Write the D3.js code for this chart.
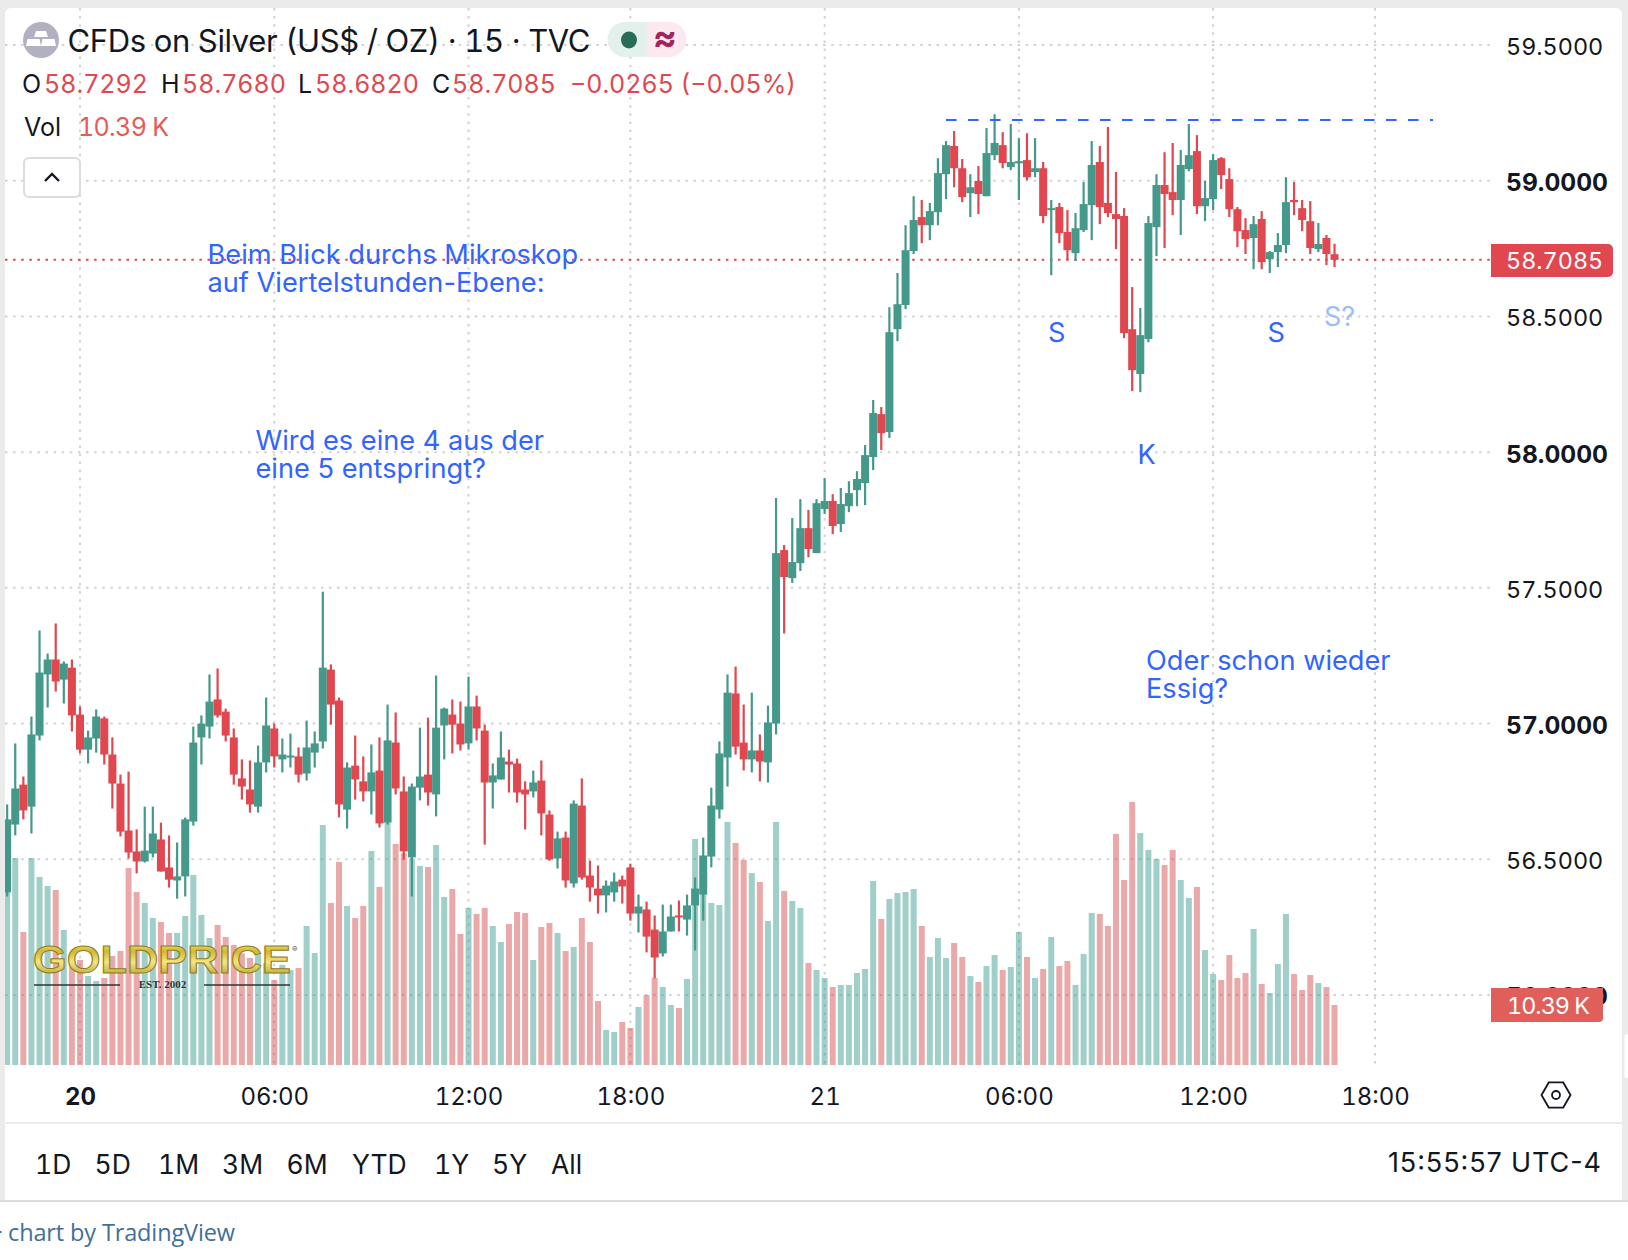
<!DOCTYPE html>
<html>
<head>
<meta charset="utf-8">
<script src="https://cdn.jsdelivr.net/npm/d3@7"></script>
<style>
html, body { margin: 0; padding: 0; background: #fff; }
svg { display: block; }
text { font-family: Inter, "Noto Sans", sans-serif; fill: #131722; font-feature-settings: "tnum" 1; }
.plain { font-feature-settings: normal; }
.axis path, .axis line { display: none; }
</style>
</head>
<body>
<svg id="chart" width="1628" height="1260"></svg>
<script>
// 15 minute candles, oldest first
const opens = [56.378,56.628,56.775,56.694,56.956,57.181,57.236,57.162,57.206,57.033,56.904,56.945,57.019,56.886,56.779,56.606,56.529,56.492,56.521,56.573,56.470,56.422,56.437,56.639,56.949,56.989,57.089,57.044,56.949,56.798,56.757,56.694,56.857,56.982,56.868,56.875,56.879,56.816,56.893,56.934,57.199,57.085,56.683,56.845,56.787,56.750,56.827,56.635,56.930,56.750,56.507,56.764,56.812,56.739,56.993,57.033,57.000,56.927,57.063,56.974,56.783,56.794,56.860,56.853,56.757,56.750,56.790,56.665,56.503,56.580,56.411,56.698,56.440,56.392,56.367,56.378,56.425,56.470,56.300,56.315,56.241,56.153,56.234,56.293,56.278,56.330,56.370,56.510,56.683,56.875,57.111,56.930,56.868,56.901,56.857,57.000,57.639,57.536,57.591,57.720,57.628,57.790,57.820,57.735,57.801,57.860,57.886,57.982,58.140,58.074,58.453,58.542,58.741,58.866,58.836,58.884,59.024,59.128,59.046,58.954,58.999,58.943,59.094,59.131,59.050,59.064,59.076,59.032,59.046,58.892,58.903,58.811,58.733,58.818,58.910,59.069,58.918,58.877,58.870,58.453,58.288,58.417,58.829,58.984,58.958,58.929,59.043,59.109,58.906,58.932,59.083,59.006,58.895,58.818,58.789,58.859,58.711,58.737,58.763,58.929,58.899,58.851,58.748,58.789,58.7292];
const highs = [56.702,56.927,56.805,57.026,57.343,57.258,57.369,57.229,57.236,57.063,56.974,57.052,57.026,56.949,56.812,56.823,56.610,56.694,56.694,56.635,56.588,56.562,56.654,56.989,57.030,57.181,57.203,57.055,56.982,56.868,56.864,56.919,57.096,57.000,56.945,56.963,56.912,57.011,56.971,57.486,57.218,57.096,56.857,56.956,56.879,56.923,56.949,57.070,57.041,56.805,56.779,56.985,57.022,57.177,57.059,57.089,57.081,57.173,57.103,56.996,56.853,56.971,56.904,56.871,56.787,56.827,56.864,56.680,56.602,56.602,56.717,56.798,56.495,56.477,56.422,56.451,56.440,56.484,56.370,56.344,56.293,56.333,56.333,56.348,56.370,56.433,56.580,56.764,56.934,57.181,57.210,57.070,57.114,56.960,57.066,57.831,57.658,57.757,57.827,57.787,57.827,57.904,57.845,57.868,57.893,57.930,58.026,58.192,58.166,58.534,58.660,58.836,58.943,58.929,58.918,59.083,59.146,59.183,59.080,59.024,59.054,59.194,59.245,59.179,59.209,59.157,59.175,59.157,59.069,58.929,58.918,58.892,58.881,58.995,59.146,59.128,59.198,59.032,58.899,58.608,58.531,58.870,59.024,59.105,59.139,59.113,59.209,59.168,58.999,59.098,59.087,59.046,58.903,58.862,58.870,58.888,58.741,58.807,59.013,58.995,58.929,58.925,58.844,58.800,58.7680];
const lows = [56.363,56.588,56.647,56.595,56.938,57.059,57.118,57.074,56.971,56.890,56.853,56.893,56.849,56.687,56.584,56.503,56.448,56.488,56.507,56.455,56.396,56.355,56.363,56.624,56.849,56.945,57.022,56.934,56.775,56.720,56.672,56.672,56.820,56.838,56.820,56.838,56.783,56.790,56.838,56.908,56.996,56.654,56.613,56.720,56.713,56.665,56.617,56.628,56.739,56.499,56.363,56.717,56.698,56.658,56.868,56.890,56.901,56.904,56.938,56.554,56.687,56.794,56.746,56.709,56.610,56.728,56.588,56.495,56.466,56.396,56.396,56.425,56.344,56.300,56.304,56.344,56.337,56.274,56.230,56.157,56.061,56.142,56.234,56.234,56.219,56.164,56.274,56.470,56.650,56.768,56.886,56.827,56.820,56.787,56.783,56.960,57.332,57.518,57.562,57.613,57.628,57.772,57.698,57.706,57.779,57.801,57.805,57.934,58.008,58.052,58.409,58.527,58.730,58.770,58.781,58.836,58.932,58.976,58.921,58.866,58.877,58.943,59.076,59.046,59.039,58.929,59.002,59.013,58.844,58.652,58.770,58.708,58.704,58.811,58.781,58.840,58.866,58.748,58.420,58.225,58.221,58.405,58.722,58.752,58.873,58.800,59.035,58.877,58.851,58.892,58.969,58.866,58.755,58.730,58.674,58.674,58.660,58.682,58.733,58.873,58.814,58.730,58.737,58.689,58.6820];
const closes = [56.647,56.761,56.680,56.960,57.188,57.236,57.155,57.221,57.030,56.904,56.949,57.026,56.886,56.779,56.602,56.525,56.492,56.532,56.595,56.455,56.425,56.437,56.647,56.930,57.000,57.081,57.030,56.956,56.812,56.768,56.702,56.857,56.993,56.879,56.886,56.882,56.812,56.912,56.927,57.206,57.070,56.702,56.838,56.794,56.750,56.820,56.632,56.938,56.761,56.529,56.768,56.805,56.746,56.985,57.055,56.996,56.923,57.063,56.982,56.783,56.809,56.875,56.849,56.746,56.739,56.783,56.669,56.499,56.577,56.422,56.705,56.433,56.396,56.367,56.403,56.418,56.400,56.300,56.326,56.215,56.138,56.234,56.289,56.286,56.330,56.392,56.514,56.698,56.890,57.114,56.915,56.868,56.901,56.860,57.004,57.628,57.540,57.595,57.720,57.643,57.812,57.820,57.728,57.809,57.849,57.901,57.989,58.144,58.070,58.442,58.545,58.744,58.855,58.836,58.888,59.028,59.131,59.046,58.940,58.976,58.951,59.102,59.139,59.065,59.069,59.072,59.013,59.046,58.870,58.899,58.807,58.744,58.825,58.914,59.058,58.903,58.881,58.859,58.439,58.302,58.431,58.844,58.984,58.951,58.929,59.058,59.094,58.906,58.936,59.076,59.021,58.895,58.814,58.785,58.840,58.700,58.737,58.763,58.921,58.921,58.855,58.752,58.767,58.730,58.7085];
// volume in thousands
const volumes = [30.31,35.85,23.03,35.85,32.56,31.00,30.31,23.38,17.32,18.18,15.41,14.55,15.07,18.88,19.74,34.12,29.96,28.06,25.46,24.77,22.86,22.86,25.81,32.91,25.98,22.00,24.25,22.17,20.78,19.34,18.53,19.22,17.67,14.72,17.32,16.45,16.80,24.07,19.40,41.57,28.06,35.16,27.54,25.46,27.54,37.06,30.83,41.91,38.27,36.66,35.79,34.47,34.29,38.10,29.10,30.48,22.69,27.19,26.15,27.19,24.07,21.30,24.42,26.50,26.33,18.18,23.90,24.59,22.86,19.74,20.44,25.46,21.30,11.08,6.06,5.72,7.45,6.41,10.05,12.12,15.07,13.51,10.39,9.87,14.89,39.14,30.31,28.06,27.71,42.09,38.45,35.50,33.25,31.69,24.94,42.09,30.14,28.40,27.19,17.67,16.45,15.07,13.51,13.86,13.86,15.93,16.63,31.87,25.29,28.75,29.79,29.96,30.48,24.07,18.70,22.00,18.53,21.13,18.70,15.41,14.38,17.15,19.05,16.45,16.97,23.03,18.70,15.07,16.63,22.17,17.15,18.01,13.86,19.22,26.33,26.15,24.07,40.01,32.04,45.55,40.18,37.24,35.68,34.64,37.24,32.04,28.92,30.83,19.92,15.76,14.72,19.05,15.07,15.93,23.55,14.03,12.47,17.49,26.15,15.76,12.99,15.59,14.20,13.51,10.39];

const priceTicks = [56, 56.5, 57, 57.5, 58, 58.5, 59, 59.5];
const boldPrices = [56, 57, 58, 59];
const timeTickBars = [9, 33, 57, 77, 101, 125, 149, 169];
const timeTickLabels = ["20", "06:00", "12:00", "18:00", "21", "06:00", "12:00", "18:00"];
const rangeLabels = ["1D", "5D", "1M", "3M", "6M", "YTD", "1Y", "5Y", "All"];
const rangeLefts = [35, 94.5, 158, 222, 286.5, 352, 434, 492, 551];
const lastPrice = 58.7085;
const resistance = 59.2237;
const ohlc = [["O", "58.7292", 22, 44], ["H", "58.7680", 161, 182], ["L", "58.6820", 298, 315], ["C", "58.7085", 432, 452]];

const UP = "#45998a", DOWN = "#e0474f", BLUE = "#3264ff";
const svg = d3.select("#chart");
const n = closes.length;

const x = d3.scaleLinear().domain([9, 169]).range([80, 1375]);
const y = d3.scaleLinear().domain([56, 59.5]).range([995, 45]);
const yVol = d3.scaleLinear().domain([0, 10.39]).range([1065, 1005]);
const isUp = i => closes[i] >= opens[i];

// page frame
svg.append("rect").attr("width", 1628).attr("height", 1201).attr("fill", "#ebebeb");
svg.append("rect").attr("x", 5).attr("y", 8).attr("width", 1617).attr("height", 1193).attr("rx", 6).attr("fill", "#fff");
svg.append("rect").attr("x", 5).attr("y", 100).attr("width", 1617).attr("height", 1101).attr("fill", "#fff");
svg.append("rect").attr("x", 1624.5).attr("y", 1034).attr("width", 4).attr("height", 44).attr("rx", 2).attr("fill", "#fff");
svg.append("rect").attr("x", 0).attr("y", 1200).attr("width", 1628).attr("height", 2).attr("fill", "#dcdcdc");
svg.append("rect").attr("x", 5).attr("y", 1122).attr("width", 1617).attr("height", 2).attr("fill", "#ebebeb");

svg.append("defs").append("clipPath").attr("id", "plot")
    .append("rect").attr("x", 5).attr("y", 8).attr("width", 1486).attr("height", 1058);
const gold = svg.select("defs").append("linearGradient").attr("id", "gold")
    .attr("x1", 0).attr("y1", 0).attr("x2", 0).attr("y2", 1);
[["0%", "#f6ec92"], ["30%", "#d3b835"], ["55%", "#f4e682"], ["100%", "#a68c1c"]].forEach(s => {
    gold.append("stop").attr("offset", s[0]).attr("stop-color", s[1]);
});

const plot = svg.append("g").attr("clip-path", "url(#plot)");

// grid
plot.selectAll(".hgrid").data(priceTicks).join("line")
    .attr("x1", 5).attr("x2", 1491)
    .attr("y1", d => y(d)).attr("y2", d => y(d))
    .attr("stroke", "#d2d2d2").attr("stroke-width", 2).attr("stroke-dasharray", "2.5 5.6");
plot.selectAll(".vgrid").data(timeTickBars).join("line")
    .attr("x1", d => x(d)).attr("x2", d => x(d))
    .attr("y1", 8).attr("y2", 1066)
    .attr("stroke", "#d2d2d2").attr("stroke-width", 2).attr("stroke-dasharray", "2.5 5.6");

// volume
plot.selectAll(".vol").data(d3.range(n)).join("rect")
    .attr("x", i => x(i) - 3).attr("width", 6)
    .attr("y", i => yVol(volumes[i])).attr("height", i => yVol(0) - yVol(volumes[i]))
    .attr("fill", i => isUp(i) ? "rgba(65,159,149,0.5)" : "rgba(213,83,81,0.5)");

// logo sits on the volume bars
const logo = svg.append("g");
logo.append("text").attr("x", 33).attr("y", 973).attr("textLength", 258).attr("lengthAdjust", "spacingAndGlyphs")
    .style("font-family", "'Liberation Sans'").style("font-weight", 700).style("font-size", "38px")
    .style("fill", "url(#gold)").attr("stroke", "#8f7d1c").attr("stroke-width", 1)
    .text("GOLDPRICE");
logo.append("text").attr("x", 292).attr("y", 952).text("®")
    .style("font-size", "8px").style("fill", "#555");
logo.selectAll("line").data([[34, 120], [204, 290]]).join("line")
    .attr("x1", d => d[0]).attr("x2", d => d[1]).attr("y1", 985).attr("y2", 985)
    .attr("stroke", "#333").attr("stroke-width", 1.5);
logo.append("text").attr("x", 162.5).attr("y", 988).attr("text-anchor", "middle").text("EST. 2002")
    .style("font-family", "'Liberation Serif'").style("font-weight", 700).style("font-size", "11px").style("fill", "#333");

// last price line
plot.append("line").attr("x1", 5).attr("x2", 1491).attr("y1", y(lastPrice)).attr("y2", y(lastPrice))
    .attr("stroke", DOWN).attr("stroke-width", 2).attr("stroke-dasharray", "2.5 5.6");

// candles
const candle = plot.selectAll(".candle").data(d3.range(n)).join("g");
candle.append("rect")
    .attr("x", i => x(i) - 1.1).attr("width", 2.2)
    .attr("y", i => y(highs[i])).attr("height", i => y(lows[i]) - y(highs[i]))
    .attr("fill", i => isUp(i) ? UP : DOWN);
candle.append("rect")
    .attr("x", i => x(i) - 4).attr("width", 8)
    .attr("y", i => y(Math.max(opens[i], closes[i])))
    .attr("height", i => Math.max(2, Math.abs(y(opens[i]) - y(closes[i]))))
    .attr("fill", i => isUp(i) ? UP : DOWN);

// drawn resistance
svg.append("line").attr("x1", 946).attr("x2", 1433).attr("y1", y(resistance)).attr("y2", y(resistance))
    .attr("stroke", BLUE).attr("stroke-width", 2).attr("stroke-dasharray", "10.6 11.4");

// annotations
const notes = [
    ["Beim Blick durchs Mikroskop", 207.5, 264], ["auf Viertelstunden-Ebene:", 207.5, 292],
    ["Wird es eine 4 aus der", 255.5, 450], ["eine 5 entspringt?", 255.5, 478],
    ["Oder schon wieder", 1146, 670], ["Essig?", 1146, 698],
    ["S", 1048, 342], ["S", 1267.5, 342], ["K", 1137.5, 464]
];
svg.selectAll(".note").data(notes).join("text").attr("class", "plain")
    .attr("x", d => d[1]).attr("y", d => d[2]).text(d => d[0])
    .style("font-size", "27.2px").style("fill", BLUE);
svg.append("text").attr("x", 1324).attr("y", 326).text("S?")
    .style("font-size", "27px").style("fill", "#9dbdf8");

// price axis
const priceAxis = d3.axisRight(y).tickValues(priceTicks).tickSize(0).tickPadding(0).tickFormat(d3.format(".4f"));
const pa = svg.append("g").attr("class", "axis").attr("transform", "translate(1506,2)").call(priceAxis);
pa.selectAll("text")
    .style("font-family", "Inter").style("fill", "#131722")
    .style("font-size", d => boldPrices.includes(d) ? "24.6px" : "23.4px")
    .style("font-weight", d => boldPrices.includes(d) ? 700 : 400);

// time axis
const timeAxis = d3.axisBottom(x).tickValues(timeTickBars).tickSize(0).tickPadding(0)
    .tickFormat((d, i) => timeTickLabels[i]);
const ta = svg.append("g").attr("class", "axis").attr("transform", "translate(0,1088)").call(timeAxis);
ta.selectAll("text")
    .style("font-family", "Inter").style("font-size", "24px").style("fill", "#131722")
    .style("font-weight", (d, i) => i == 0 ? 700 : 400);

// price and volume badges
svg.append("path").attr("d", "M1491,244H1608a5,5 0 0 1 5,5V272a5,5 0 0 1 -5,5H1491Z").attr("fill", DOWN);
svg.append("text").attr("x", 1506).attr("y", 269).text(lastPrice.toFixed(4))
    .style("font-size", "23.4px").style("fill", "#fff");
svg.append("path").attr("d", "M1491,988H1603V1018a4,4 0 0 1 -4,4H1491Z").attr("fill", "#e05f5a");
svg.append("text").attr("x", 1507).attr("y", 1014).attr("textLength", 83).text("10.39 K")
    .style("font-size", "23.4px").style("fill", "#fff");

// hexagon settings icon
svg.append("path").attr("d", d3.line()(d3.range(6).map(k => [1556 + 14.5 * Math.cos(k * Math.PI / 3), 1095 + 14.5 * Math.sin(k * Math.PI / 3)])) + "Z")
    .attr("fill", "none").attr("stroke", "#131722").attr("stroke-width", 1.8);
svg.append("circle").attr("cx", 1556).attr("cy", 1095).attr("r", 4).attr("fill", "none").attr("stroke", "#131722").attr("stroke-width", 1.8);

// header
svg.append("circle").attr("cx", 41).attr("cy", 40).attr("r", 18).attr("fill", "#b2b1c1");
svg.append("path").attr("d", "M36,31H46L48,37H34ZM27.5,39H39.5L41,46H26ZM42.5,39H54.5L56,46H41Z").attr("fill", "#fff");
svg.append("text").attr("x", 67.5).attr("y", 52).text("CFDs on Silver (US$ / OZ) · 15 · TVC")
    .attr("textLength", 523).style("font-size", "31px");
svg.append("path").attr("d", "M647,22H625a17.5,17.5 0 0 0 0,35H647Z").attr("fill", "#e3f0ec");
svg.append("path").attr("d", "M647,22H669a17.5,17.5 0 0 1 0,35H647Z").attr("fill", "#fbe9ef");
svg.append("ellipse").attr("cx", 629).attr("cy", 40).attr("rx", 8).attr("ry", 8.5).attr("fill", "#2a6b5a");
svg.append("text").attr("x", 665).attr("y", 50).attr("text-anchor", "middle").text("≈")
    .style("font-size", "36px").style("font-weight", 700).style("fill", "#a3245d");

ohlc.forEach(d => {
    svg.append("text").attr("x", d[2]).attr("y", 93).text(d[0]).style("font-size", "25px");
    svg.append("text").attr("x", d[3]).attr("y", 93).attr("textLength", 104).text(d[1]).style("font-size", "25px").style("fill", DOWN);
});
svg.append("text").attr("x", 570).attr("y", 93).attr("textLength", 226).text("−0.0265 (−0.05%)").style("font-size", "25px").style("fill", DOWN);
svg.append("text").attr("x", 24).attr("y", 136).text("Vol").style("font-size", "25px");
svg.append("text").attr("x", 78).attr("y", 136).attr("textLength", 91).text("10.39 K").style("font-size", "25px").style("fill", "#e85a56");

svg.append("rect").attr("x", 24).attr("y", 158).attr("width", 56).attr("height", 39).attr("rx", 5)
    .attr("fill", "#fff").attr("stroke", "#dcdcdc").attr("stroke-width", 2);
svg.append("path").attr("d", "M45,181L52,174L59,181").attr("fill", "none").attr("stroke", "#131722").attr("stroke-width", 2.4);

// range buttons and clock
svg.selectAll(".range").data(rangeLabels).join("text")
    .attr("x", (d, i) => rangeLefts[i]).attr("y", 1174).text(d => d)
    .style("font-size", "26.5px");
svg.append("text").attr("x", 1388).attr("y", 1172).attr("textLength", 213).text("15:55:57 UTC-4")
    .attr("class", "plain").style("font-size", "27px");

// footer
svg.append("rect").attr("x", 0).attr("y", 1231).attr("width", 1.5).attr("height", 2).attr("fill", "#3f7097");
svg.append("text").attr("x", 8).attr("y", 1241).attr("textLength", 227).text("chart by TradingView")
    .style("font-family", "'Open Sans'").style("font-size", "23.5px").style("fill", "#3f7097");
</script>
</body>
</html>
